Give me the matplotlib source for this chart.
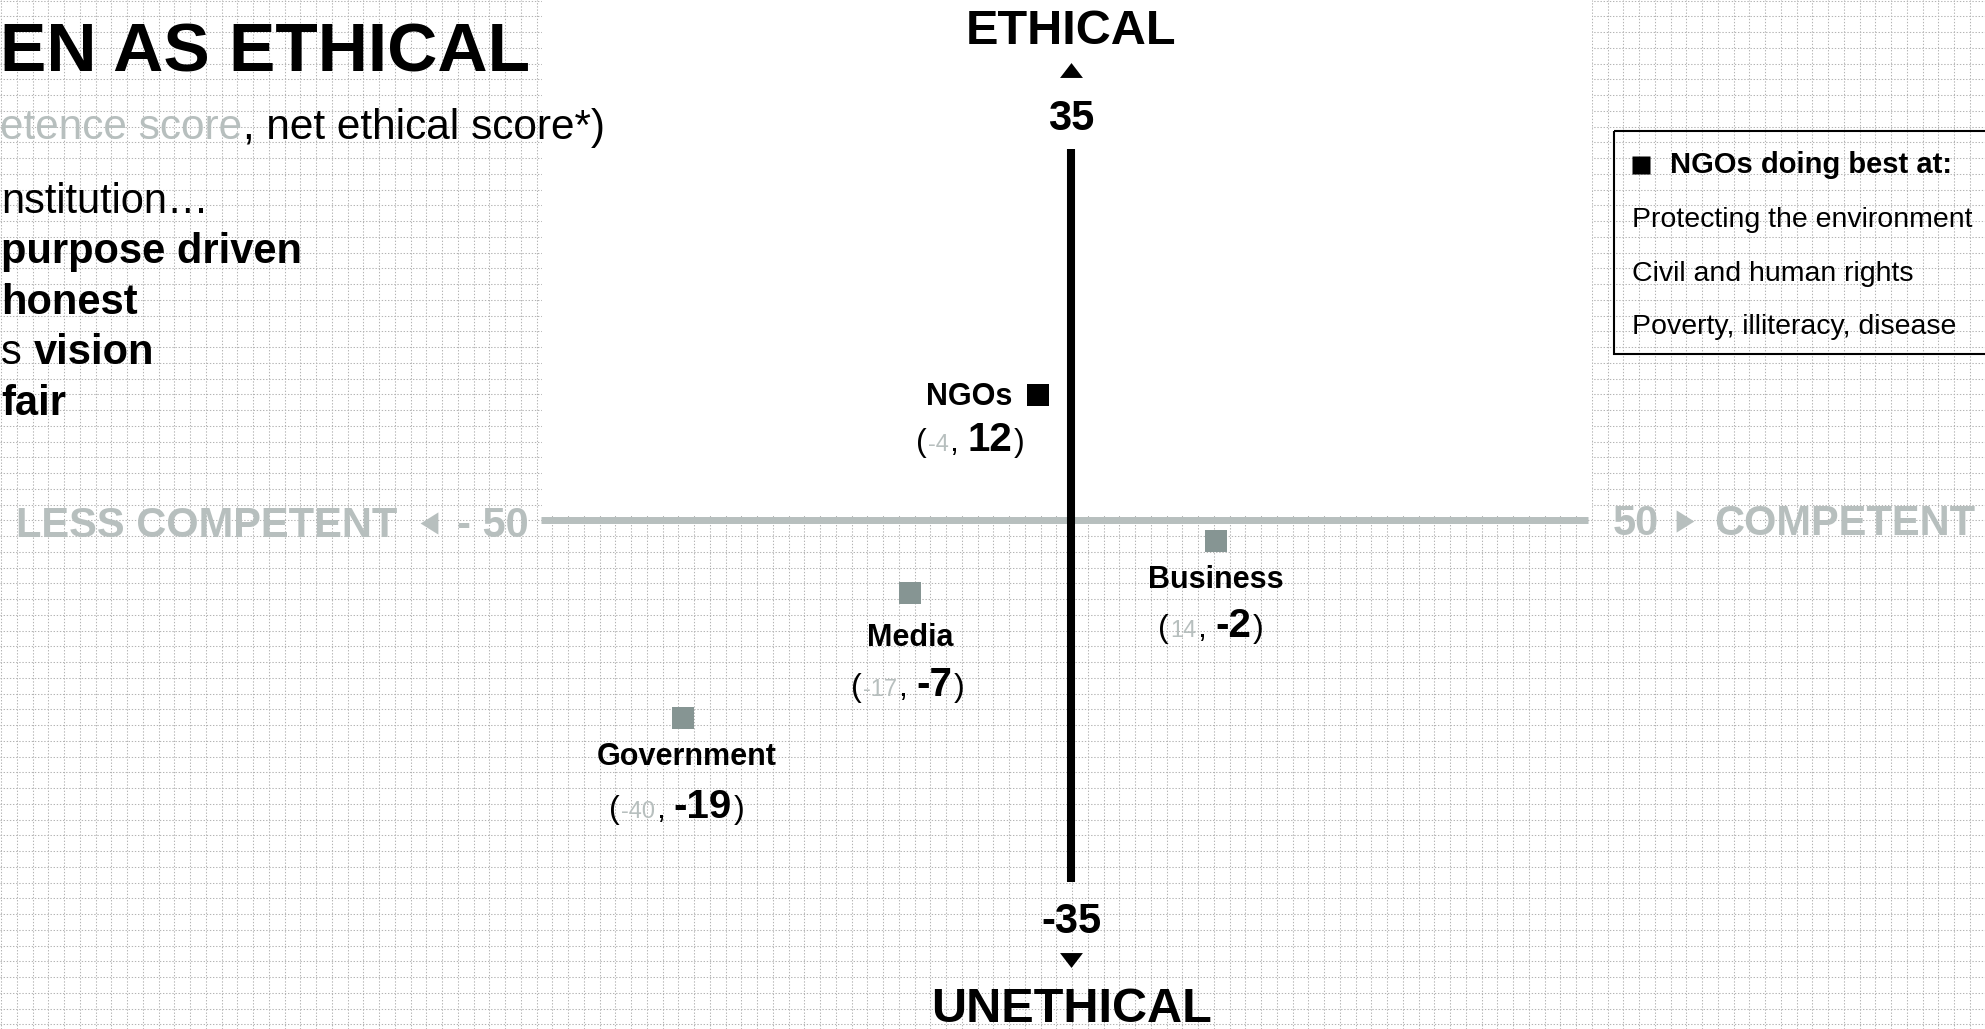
import numpy as np
import matplotlib
matplotlib.use('Agg')
import matplotlib.pyplot as plt
from matplotlib import font_manager
from matplotlib.patches import Rectangle
from matplotlib.transforms import offset_copy

W, H = 1985, 1029

# data
institutions = ['NGOs', 'Business', 'Media', 'Government']
competence = [-4, 14, -17, -40]      # net competence score (x)
ethical = [12, -2, -7, -19]          # net ethical score (y)
marker_colors = ['black', '#869593', '#869593', '#869593']
x_ends = [-50, 50]
y_ends = [-35, 35]
ngo_best_at = ['Protecting the environment', 'Civil and human rights',
               'Poverty, illiteracy, disease']

# label offsets in px: (name dx, name dy, values dx, values dy)
label_offsets = {'NGOs': (-26, -10, -68, -56),
                 'Business': (0, -47, -5, -96),
                 'Media': (0, -53, -2, -103),
                 'Government': (4, -47, -6, -100)}

GRAY = '#b7bfbe'
installed = {f.name for f in font_manager.fontManager.ttflist}
has_narrow = 'Liberation Sans Narrow' in installed
SANS = ['Liberation Sans', 'DejaVu Sans']
NARROW = ['Liberation Sans Narrow'] + SANS if has_narrow else SANS
title_size = 60 if has_narrow else 50
gray_num_size = 20 if has_narrow else 17
plt.rcParams['font.family'] = SANS

fig = plt.figure(figsize=(W / 100, H / 100), dpi=100)

# dotted grid background (pixel coords, origin top-left)
bg = fig.add_axes([0, 0, 1, 1])
bg.set_xlim(0, W)
bg.set_ylim(H, 0)
bg.set_xticks(np.arange(1, W, 15.75))
bg.set_yticks(np.arange(0.5, H, 15.75))
bg.grid(True, color='#b4b4b4', lw=0.75, linestyle=(0, (1.3, 1.7)))
bg.tick_params(length=0, labelbottom=False, labelleft=False)
for s in bg.spines.values():
    s.set_visible(False)
bg.add_patch(Rectangle((542, 0), 1592 - 542, 516, facecolor='white',
                       edgecolor='none', zorder=2))
pix = bg.transData

# main axes in score units
ax = fig.add_axes([0, 0, 1, 1])
ax.set_xlim(-109.2, 91.9)
ax.set_ylim(-48.85, 49.9)
ax.axis('off')
ax.patch.set_visible(False)

renderer = fig.canvas.get_renderer()


def rich(x, y, pieces, trans, ha='left', dx=0, dy=0):
    # pieces: (text, style, gap after in px)
    arts, widths = [], []
    for s, kw, gap in pieces:
        t = ax.text(x, y, s, va='baseline', ha='left', transform=trans, **kw)
        arts.append(t)
        widths.append(t.get_window_extent(renderer).width + gap)
    total = sum(widths) - pieces[-1][2]
    off = {'left': 0, 'center': -total / 2, 'right': -total}[ha]
    for t, w in zip(arts, widths):
        t.set_transform(offset_copy(trans, fig=fig, x=dx + off, y=dy, units='dots'))
        off += w


# axes lines
ax.plot([541, 1588], [519.5, 519.5], transform=pix, color=GRAY, lw=5.0,
        solid_capstyle='butt', zorder=2)
ax.plot([1071, 1071], [149, 882], transform=pix, color='black', lw=5.8,
        solid_capstyle='butt', zorder=3)

# title block (left)
ax.text(0, 72, 'EN AS ETHICAL', transform=pix, fontsize=title_size,
        fontweight='bold', family=NARROW, va='baseline', ha='left')
rich(0, 139, [('etence score', dict(fontsize=30.5, color=GRAY), 1),
              (', net ethical score*)', dict(fontsize=30.5, color='black'), 0)], pix)
ax.text(1, 213, 'nstitution\u2026', transform=pix, fontsize=30, va='baseline')
ax.text(1, 263.5, 'purpose driven', transform=pix, fontsize=30,
        fontweight='bold', va='baseline')
ax.text(1, 314, 'honest', transform=pix, fontsize=30, fontweight='bold',
        va='baseline')
rich(1, 364.5, [('s', dict(fontsize=30), 12),
                ('vision', dict(fontsize=30, fontweight='bold'), 0)], pix)
ax.text(1, 415, 'fair', transform=pix, fontsize=30, fontweight='bold',
        va='baseline')

# vertical axis labels
ax.text(1071, 44, 'ETHICAL', transform=pix, fontsize=35, fontweight='bold',
        ha='center', va='baseline')
ax.plot([1071], [70], transform=pix, marker=[(-1, -0.65), (1, -0.65), (0, 0.65)],
        ms=16.5, color='black', mec='none', clip_on=False)
ax.text(1071, 130, str(y_ends[1]), transform=pix, fontsize=30, fontweight='bold',
        ha='center', va='baseline')
ax.text(1071, 933, str(y_ends[0]), transform=pix, fontsize=30, fontweight='bold',
        ha='center', va='baseline')
ax.plot([1071], [960], transform=pix, marker=[(-1, 0.65), (1, 0.65), (0, -0.65)],
        ms=16.5, color='black', mec='none', clip_on=False)
ax.text(1072, 1022, 'UNETHICAL', transform=pix, fontsize=35, fontweight='bold',
        ha='center', va='baseline')

# horizontal axis labels
ax.text(16, 537, 'LESS COMPETENT', transform=pix, fontsize=30, fontweight='bold',
        color=GRAY, va='baseline')
ax.plot([429], [523], transform=pix, marker=[(-0.8, 0), (0.8, 1), (0.8, -1)],
        ms=16, color=GRAY, mec='none')
ax.text(457, 537, '- %d' % abs(x_ends[0]), transform=pix, fontsize=30,
        fontweight='bold', color=GRAY, va='baseline')
ax.text(1613, 535, str(x_ends[1]), transform=pix, fontsize=30, fontweight='bold',
        color=GRAY, va='baseline')
ax.plot([1685], [521], transform=pix, marker=[(0.8, 0), (-0.8, 1), (-0.8, -1)],
        ms=16, color=GRAY, mec='none')
ax.text(1714, 535, 'COMPETENT', transform=pix, fontsize=30, fontweight='bold',
        color=GRAY, va='baseline')

# points
ax.scatter(competence, ethical, marker='s', s=(22 * 0.72) ** 2,
           c=marker_colors, edgecolors='none', zorder=4)

for name, cx, ey in zip(institutions, competence, ethical):
    ndx, ndy, vdx, vdy = label_offsets[name]
    vals = [('(', dict(fontsize=23), 1),
            ('%d' % cx, dict(fontsize=gray_num_size, color=GRAY, family=NARROW), 1),
            (',', dict(fontsize=23), 9),
            ('%d' % ey, dict(fontsize=29, fontweight='bold'), 2),
            (')', dict(fontsize=23), 0)]
    ha = 'right' if name == 'NGOs' else 'center'
    rich(cx, ey, [(name, dict(fontsize=22, fontweight='bold'), 0)],
         ax.transData, ha=ha, dx=ndx, dy=ndy)
    rich(cx, ey, vals, ax.transData, ha='center', dx=vdx, dy=vdy)

# NGO box (right)
ax.add_patch(Rectangle((1614, 131), 450, 223, transform=pix, fill=False,
                       edgecolor='black', lw=1.5, clip_on=False))
ax.plot([1641], [164.5], transform=pix, marker='s', ms=18 * 0.72, color='black',
        mec='none')
ax.text(1670, 173, 'NGOs doing best at:', transform=pix, fontsize=21,
        fontweight='bold', va='baseline')
for item, base in zip(ngo_best_at, [227, 281, 334]):
    ax.text(1632, base, item, transform=pix, fontsize=20.5, va='baseline')

fig.savefig('out.png', dpi=100)
